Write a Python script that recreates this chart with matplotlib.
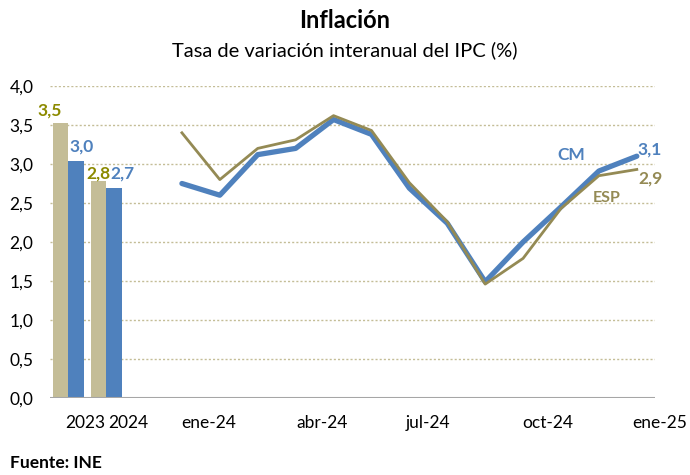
import numpy as np
import matplotlib.pyplot as plt
import matplotlib
from matplotlib.ticker import FuncFormatter
import matplotlib.transforms as mtransforms

matplotlib.rcParams['font.family'] = ['Lato', 'DejaVu Sans']

# annual averages (bars)
years = ['2023', '2024']
esp_year = [3.53, 2.78]
cm_year = [3.04, 2.69]

# monthly data ene-24 .. ene-25
months = ['ene-24', 'feb-24', 'mar-24', 'abr-24', 'may-24', 'jun-24', 'jul-24',
          'ago-24', 'sep-24', 'oct-24', 'nov-24', 'dic-24', 'ene-25']
esp_month = [3.4, 2.8, 3.2, 3.31, 3.62, 3.43, 2.76, 2.26, 1.46, 1.79, 2.43, 2.85, 2.93]
cm_month = [2.75, 2.6, 3.12, 3.2, 3.57, 3.38, 2.69, 2.24, 1.49, 2.0, 2.45, 2.91, 3.1]

tick_labels = ['2023', '2024', 'ene-24', 'abr-24', 'jul-24', 'oct-24', 'ene-25']
tick_pos = [-2.55, -1.42, 0.71, 3.69, 6.48, 9.64, 12.6]

blue = '#4F81BD'
tan = '#C4BD97'
olive = '#948A54'
olive_lbl = '#8C8A00'

fig = plt.figure(figsize=(6.9, 4.75), dpi=100)
ax = fig.add_axes([50 / 690, 77 / 475, 605 / 690, 312 / 475])

x_year = np.array([-3.0, -2.0])
w = 0.41
ax.bar(x_year - w / 2, esp_year, w, color=tan, zorder=2)
ax.bar(x_year + w / 2, cm_year, w, color=blue, zorder=2)

x_m = np.arange(len(months))
ax.plot(x_m, cm_month, color=blue, lw=3.8, solid_capstyle='round',
        solid_joinstyle='round', zorder=3)
ax.plot(x_m, esp_month, color=olive, lw=2.0, zorder=4)


def fmt(v):
    return ('%.1f' % v).replace('.', ',')


# bar value labels (offsets in data units, hand placed like the original)
bar_lbl = [
    (x_year[0] - w / 2 - 0.28, esp_year[0] + 0.16, esp_year[0], olive_lbl),
    (x_year[0] + w / 2 + 0.15, cm_year[0] + 0.18, cm_year[0], blue),
    (x_year[1] - w / 2 + 0.0, esp_year[1] + 0.10, esp_year[1], olive_lbl),
    (x_year[1] + w / 2 + 0.22, cm_year[1] + 0.19, cm_year[1], blue),
]
for xx, yy, v, c in bar_lbl:
    ax.text(xx, yy, fmt(v), color=c, fontsize=12.5, fontweight='bold',
            ha='center', va='center', zorder=5, clip_on=False)

# end labels for lines
ax.text(x_m[-1] + 0.35, cm_month[-1] + 0.08, fmt(cm_month[-1]), color=blue,
        fontsize=12.5, fontweight='bold', ha='center', va='center', clip_on=False)
ax.text(x_m[-1] + 0.35, esp_month[-1] - 0.11, fmt(esp_month[-1]), color=olive,
        fontsize=12.5, fontweight='bold', ha='center', va='center', clip_on=False)
ax.text(10.28, 3.11, 'CM', color=blue, fontsize=12.5, fontweight='bold',
        ha='center', va='center')
ax.text(11.2, 2.56, 'ESP', color=olive, fontsize=11.5, fontweight='bold',
        ha='center', va='center')

ax.set_xlim(-3.48, 12.48)
ax.set_ylim(0, 4.0)
ax.set_yticks(np.arange(0, 4.01, 0.5))
ax.yaxis.set_major_formatter(FuncFormatter(lambda v, p: fmt(v)))
ax.tick_params(axis='y', length=0, pad=12, labelsize=12.5)
ax.set_xticks([])

for yv in np.arange(0.5, 4.01, 0.5):
    ax.axhline(yv, color=tan, lw=1.0, ls=(0, (1.5, 1.5)), zorder=1)
ax.axhline(0, color='#A6A6A6', lw=1.5, zorder=3)

for s in ax.spines.values():
    s.set_visible(False)

trans = mtransforms.blended_transform_factory(ax.transData, ax.transAxes)
for p, t in zip(tick_pos, tick_labels):
    ax.text(p, -25 / 312, t, transform=trans, ha='center', va='center',
            fontsize=12.5, clip_on=False)

fig.text(0.5, 1 - 20 / 475, 'Inflación', ha='center', va='center',
         fontsize=17, fontweight='bold')
fig.text(0.5, 1 - 50 / 475, 'Tasa de variación interanual del IPC (%)',
         ha='center', va='center', fontsize=14.5)
fig.text(10 / 690, 1 - 463 / 475, 'Fuente: INE', ha='left', va='center',
         fontsize=12.5, fontweight='bold')

fig.savefig('out.png', dpi=100)
